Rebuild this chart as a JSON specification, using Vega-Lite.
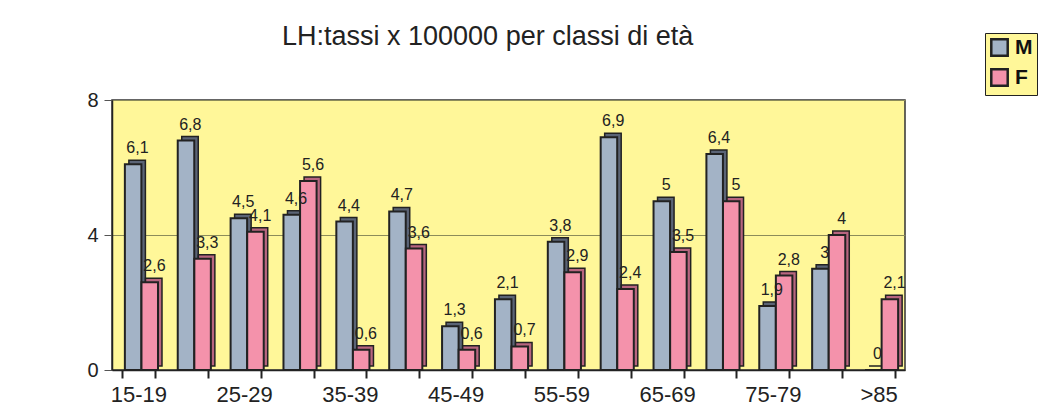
{
  "$schema": "https://vega.github.io/schema/vega-lite/v6.json",
  "autosize": {"type": "none"},
  "width": 793,
  "height": 270,
  "padding": {"left": 112, "top": 100, "right": 156, "bottom": 39},
  "background": "white",
  "title": {
    "text": "LH:tassi x 100000 per classi di età",
    "anchor": "start",
    "frame": "group",
    "dx": 170,
    "offset": -18,
    "font": "Liberation Sans",
    "fontSize": 27,
    "fontWeight": "normal",
    "color": "#222222"
  },
  "data": {
    "values": [
      {"age": "15-19", "sex": "M", "value": 6.1},
      {"age": "15-19", "sex": "F", "value": 2.6},
      {"age": "20-24", "sex": "M", "value": 6.8},
      {"age": "20-24", "sex": "F", "value": 3.3},
      {"age": "25-29", "sex": "M", "value": 4.5},
      {"age": "25-29", "sex": "F", "value": 4.1},
      {"age": "30-34", "sex": "M", "value": 4.6},
      {"age": "30-34", "sex": "F", "value": 5.6},
      {"age": "35-39", "sex": "M", "value": 4.4},
      {"age": "35-39", "sex": "F", "value": 0.6},
      {"age": "40-44", "sex": "M", "value": 4.7},
      {"age": "40-44", "sex": "F", "value": 3.6},
      {"age": "45-49", "sex": "M", "value": 1.3},
      {"age": "45-49", "sex": "F", "value": 0.6},
      {"age": "50-54", "sex": "M", "value": 2.1},
      {"age": "50-54", "sex": "F", "value": 0.7},
      {"age": "55-59", "sex": "M", "value": 3.8},
      {"age": "55-59", "sex": "F", "value": 2.9},
      {"age": "60-64", "sex": "M", "value": 6.9},
      {"age": "60-64", "sex": "F", "value": 2.4},
      {"age": "65-69", "sex": "M", "value": 5},
      {"age": "65-69", "sex": "F", "value": 3.5},
      {"age": "70-74", "sex": "M", "value": 6.4},
      {"age": "70-74", "sex": "F", "value": 5},
      {"age": "75-79", "sex": "M", "value": 1.9},
      {"age": "75-79", "sex": "F", "value": 2.8},
      {"age": "80-84", "sex": "M", "value": 3},
      {"age": "80-84", "sex": "F", "value": 4},
      {"age": ">85", "sex": "M", "value": 0},
      {"age": ">85", "sex": "F", "value": 2.1}
    ]
  },
  "encoding": {
    "x": {
      "field": "age",
      "type": "nominal",
      "sort": null,
      "scale": {"paddingInner": 0.375, "paddingOuter": 0.1875},
      "axis": {
        "title": null,
        "labelAngle": 0,
        "tickBand": "extent",
        "labelExpr": "substring(datum.value, 1, 2) == '5' || datum.value == '>85' ? datum.label : ''",
        "labelFont": "Liberation Sans",
        "labelFontSize": 22,
        "labelColor": "#222222",
        "labelPadding": 6,
        "tickSize": 8,
        "tickColor": "#222222",
        "tickWidth": 2,
        "domainColor": "#222222",
        "domainWidth": 1.5,
        "grid": false
      }
    },
    "y": {
      "field": "value",
      "type": "quantitative",
      "scale": {"domain": [0, 8]},
      "axis": {
        "title": null,
        "values": [0, 4, 8],
        "labelFont": "Liberation Sans",
        "labelFontSize": 20,
        "labelColor": "#222222",
        "labelPadding": 6,
        "tickSize": 8,
        "tickColor": "#555555",
        "domainColor": "#222222",
        "domainWidth": 1.5,
        "grid": true,
        "gridColor": "#8c8c5a",
        "gridWidth": 1
      }
    }
  },
  "layer": [
    {
      "transform": [{"filter": "datum.sex == 'M'"}],
      "mark": {"type": "bar", "width": {"band": 0.5}, "xOffset": -1.3, "yOffset": -4, "color": "#5b6476", "stroke": "#222222", "strokeWidth": 1.5}
    },
    {
      "transform": [{"filter": "datum.sex == 'F'"}],
      "mark": {"type": "bar", "width": {"band": 0.5}, "xOffset": 15.3, "yOffset": -4, "color": "#b8657f", "stroke": "#222222", "strokeWidth": 1.5}
    },
    {
      "transform": [{"filter": "datum.sex == 'M'"}],
      "mark": {"type": "bar", "width": {"band": 0.5}, "xOffset": -5.3, "stroke": "#222222", "strokeWidth": 2},
      "encoding": {
        "color": {
          "field": "sex",
          "type": "nominal",
          "scale": {"domain": ["M", "F"], "range": ["#a3b3c6", "#f492ab"]},
          "legend": {
            "title": null,
            "orient": "none",
            "legendX": 873,
            "legendY": -67,
            "direction": "vertical",
            "fillColor": "#fff799",
            "strokeColor": "#222222",
            "padding": 4,
            "symbolType": "square",
            "symbolSize": 270,
            "symbolStrokeColor": "#222222",
            "symbolStrokeWidth": 2.5,
            "symbolOpacity": 1,
            "labelFont": "Liberation Sans",
            "labelFontSize": 21,
            "labelFontWeight": "bold",
            "labelColor": "#111111",
            "rowPadding": 3,
            "labelOffset": 5
          }
        }
      }
    },
    {
      "transform": [{"filter": "datum.sex == 'F'"}],
      "mark": {"type": "bar", "width": {"band": 0.5}, "xOffset": 11.3, "stroke": "#222222", "strokeWidth": 2},
      "encoding": {
        "color": {"field": "sex", "type": "nominal"}
      }
    },
    {
      "transform": [{"filter": "datum.sex == 'M'"}],
      "mark": {"type": "text", "baseline": "bottom", "dy": -8, "dx": -1, "font": "Liberation Sans", "fontSize": 16, "color": "#222222"},
      "encoding": {
        "text": {"field": "value", "type": "quantitative", "format": "~g"}
      }
    },
    {
      "transform": [{"filter": "datum.sex == 'F'"}],
      "mark": {"type": "text", "baseline": "bottom", "dy": -8, "dx": 16, "font": "Liberation Sans", "fontSize": 16, "color": "#222222"},
      "encoding": {
        "text": {"field": "value", "type": "quantitative", "format": "~g"}
      }
    }
  ],
  "config": {
    "locale": {"number": {"decimal": ",", "thousands": ".", "grouping": [3], "currency": ["", " €"]}},
    "view": {"fill": "#fff799", "stroke": "#333333", "strokeWidth": 1.5}
  }
}
